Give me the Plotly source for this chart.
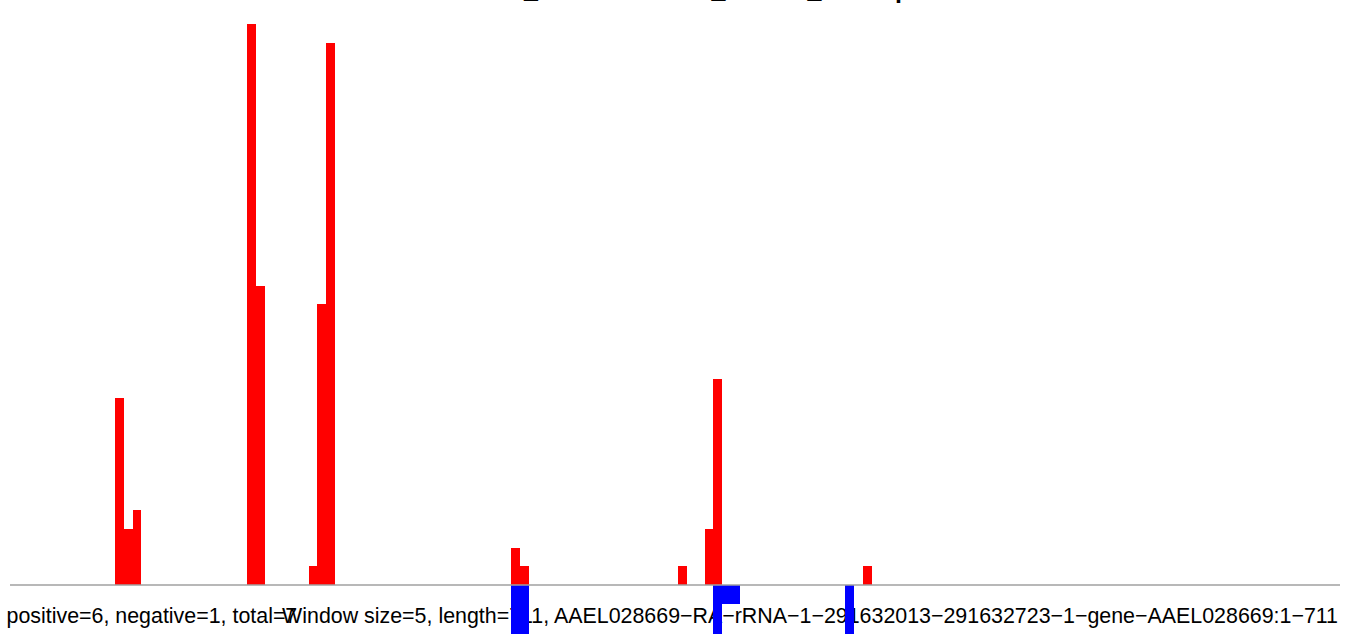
import plotly.graph_objects as go

# ---- data (window start positions, window size 5) ----
window_size = 5
seq_length = 711
red_starts = [35, 40, 45, 110, 115, 145, 150, 155, 260, 265, 355, 370, 375, 460]
red_values = [10, 3, 4, 30, 16, 1, 15, 29, 2, 1, 1, 3, 11, 1]
blue_starts = [260, 265, 375, 380, 385, 450]
blue_values = [-3, -3, -3, -1, -1, -3]

title_text = "RML12_AAEL028669-1_sRNAs_overlap"
left_label = "positive=6, negative=1, total=7"
right_label = ("Window size=5, length=711, AAEL028669\u2212RA\u2212rRNA\u22121\u2212291632013"
               "\u2212291632723\u22121\u2212gene\u2212AAEL028669:1\u2212711")

W, H = 1350, 634
FONT = "Liberation Sans, Arial, sans-serif"
FS = 21.4

fig = go.Figure()

# base layer (pixel-like coordinates) for text so bars draw over it
fig.add_trace(go.Scatter(x=[6.5], y=[617.6], mode="text", text=[left_label],
                         textposition="middle right", cliponaxis=False, showlegend=False,
                         hoverinfo="skip",
                         textfont=dict(family=FONT, size=FS, color="black"),
                         xaxis="x", yaxis="y"))
fig.add_trace(go.Scatter(x=[1338], y=[617.6], mode="text", text=[right_label],
                         textposition="middle left", cliponaxis=False, showlegend=False,
                         hoverinfo="skip",
                         textfont=dict(family=FONT, size=FS, color="black"),
                         xaxis="x", yaxis="y"))

# bars on overlaid axes
fig.add_trace(go.Bar(x=red_starts, y=red_values, width=window_size, offset=0,
                     marker=dict(color="#FF0000", line=dict(width=0)),
                     showlegend=False, xaxis="x2", yaxis="y2"))
fig.add_trace(go.Bar(x=blue_starts, y=blue_values, width=window_size, offset=0,
                     marker=dict(color="#0000FF", line=dict(width=0)),
                     showlegend=False, xaxis="x2", yaxis="y2"))

fig.add_shape(type="line", xref="paper", yref="y2", x0=10 / W, x1=1340 / W, y0=0, y1=0,
              line=dict(color="#A0A0A0", width=1.5), layer="above")

# title (mostly above the visible canvas, as in the reference)
fig.add_annotation(text="<b>" + title_text + "</b>", xref="paper", yref="paper",
                   x=440 / W, y=1, xanchor="left", yanchor="bottom", yshift=-5.5,
                   showarrow=False, font=dict(family=FONT, size=25, color="black"))

fig.update_layout(
    width=W, height=H,
    margin=dict(l=0, r=0, t=0, b=0),
    paper_bgcolor="white", plot_bgcolor="rgba(0,0,0,0)",
    barmode="relative", bargap=0,
    xaxis=dict(range=[0, W], visible=False, domain=[0, 1], fixedrange=True),
    yaxis=dict(range=[H, 0], visible=False, domain=[0, 1], fixedrange=True),
    xaxis2=dict(range=[-30.34, 736.7], visible=False, overlaying="x", anchor="y2",
                fixedrange=True),
    yaxis2=dict(range=[-2.62, 31.28], visible=False, overlaying="y", anchor="x2",
                fixedrange=True),
)

fig.write_html("out.html", config={"displayModeBar": False},
               post_script="document.body.style.margin='0px';")
